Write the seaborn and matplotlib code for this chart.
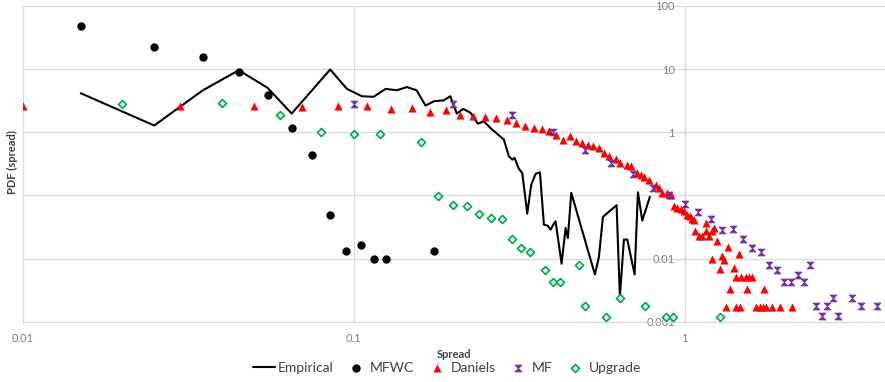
import matplotlib
matplotlib.use("Agg")
import matplotlib.pyplot as plt
import seaborn as sns

# ---------------- data ----------------
emp_x = [0.015, 0.025, 0.035, 0.045, 0.055, 0.065, 0.085, 0.0955, 0.106, 0.115,
         0.125, 0.135, 0.145, 0.155, 0.165, 0.175, 0.187, 0.196, 0.205, 0.2145,
         0.2257, 0.2374, 0.2475, 0.259, 0.2845, 0.2945, 0.3017, 0.3064, 0.3158, 0.3233,
         0.3347, 0.3441, 0.3548, 0.3656, 0.3758, 0.3864, 0.3937, 0.4012, 0.4076, 0.425,
         0.437, 0.444, 0.4546, 0.5358, 0.551, 0.5665, 0.623, 0.6375, 0.6556, 0.6712,
         0.7063, 0.7227, 0.745, 0.7855]
emp_y = [4.15, 1.28, 4.6, 9.6, 5.05, 1.98, 9.86, 4.87, 3.72, 3.65,
         4.87, 4.63, 5.2, 4.63, 2.65, 3.1, 3.2, 3.72, 1.98, 2.35,
         2.03, 1.37, 1.49, 1.17, 0.766, 0.417, 0.369, 0.393, 0.263, 0.227,
         0.0515, 0.148, 0.22, 0.232, 0.0345, 0.033, 0.0287, 0.0345, 0.039, 0.0083,
         0.0305, 0.0212, 0.11, 0.0056, 0.0106, 0.0456, 0.07, 0.0025, 0.02, 0.02,
         0.0056, 0.112, 0.04, 0.095]

mfwc_x = [0.015, 0.025, 0.035, 0.045, 0.055, 0.065, 0.075, 0.085, 0.095, 0.105,
          0.115, 0.125, 0.175]
mfwc_y = [49.1, 22.2, 15.7, 8.9, 3.96, 1.19, 0.43, 0.049, 0.0131, 0.0165,
          0.0099, 0.0099, 0.0131]

daniels_x = [0.01, 0.03, 0.05, 0.07, 0.09, 0.11, 0.13, 0.15, 0.17, 0.19,
             0.21, 0.23, 0.25, 0.27, 0.29, 0.31, 0.33, 0.35, 0.37, 0.39,
             0.41, 0.43, 0.45, 0.47, 0.49, 0.51, 0.53, 0.55, 0.57, 0.59,
             0.62, 0.64, 0.67, 0.69, 0.72, 0.74, 0.755, 0.78, 0.817, 0.836,
             0.856, 0.886, 0.907, 0.928, 0.95, 0.972, 0.995, 1.019, 1.037, 1.055,
             1.067, 1.072, 1.105, 1.131, 1.157, 1.157, 1.184, 1.212, 1.226, 1.255,
             1.3, 1.351, 1.212, 1.276, 1.409, 1.314, 1.463, 1.433, 1.476, 1.529,
             1.564, 1.602, 1.37, 1.54, 1.736, 1.337, 1.433, 1.466, 1.639, 1.685,
             1.724, 1.766, 1.84, 1.94, 2.105]
daniels_y = [2.58, 2.58, 2.65, 2.53, 2.65, 2.58, 2.35, 2.4, 2.13, 2.23,
             1.91, 1.84, 1.75, 1.69, 1.59, 1.41, 1.28, 1.17, 1.13, 1.06,
             0.92, 0.766, 0.864, 0.72, 0.68, 0.622, 0.60, 0.566, 0.472, 0.417,
             0.379, 0.327, 0.308, 0.289, 0.227, 0.2135, 0.196, 0.1735, 0.148, 0.131,
             0.11, 0.11, 0.103, 0.067, 0.063, 0.061, 0.056, 0.0495, 0.0467, 0.0424,
             0.0414, 0.027, 0.0225, 0.0225, 0.027, 0.0367, 0.0225, 0.027, 0.0305, 0.0187,
             0.0111, 0.0153, 0.00986, 0.00685, 0.0071, 0.0096, 0.012, 0.0051, 0.0051, 0.0051,
             0.0051, 0.0051, 0.0033, 0.0033, 0.0033, 0.00169, 0.00169, 0.00169, 0.00169, 0.00169,
             0.00169, 0.00169, 0.00169, 0.00169, 0.00169]

mf_x = [0.1, 0.2, 0.3, 0.4, 0.5, 0.6, 0.7, 0.8, 0.9, 1.0,
        1.1, 1.2, 1.3, 1.4, 1.5, 1.6, 1.7, 1.8, 1.9, 2.0,
        2.1, 2.2, 2.3, 2.4, 2.5, 2.6, 2.7, 2.8, 2.9, 3.2,
        3.4, 3.8]
mf_y = [2.82, 2.85, 1.89, 1.0, 0.519, 0.327, 0.22, 0.13, 0.103, 0.0733,
        0.054, 0.0424, 0.028, 0.0295, 0.0207, 0.0147, 0.0127, 0.0078, 0.0067, 0.00425,
        0.00425, 0.0054, 0.00425, 0.008, 0.00175, 0.00121, 0.00175, 0.00238, 0.00121, 0.00238,
        0.00175, 0.00175]

upg_x = [0.02, 0.04, 0.06, 0.08, 0.10, 0.12, 0.16, 0.18, 0.20, 0.22,
         0.24, 0.26, 0.28, 0.30, 0.32, 0.34, 0.38, 0.40, 0.42, 0.48,
         0.50, 0.58, 0.64, 0.76, 0.88, 0.92, 1.28]
upg_y = [2.82, 2.88, 1.86, 1.01, 0.95, 0.95, 0.71, 0.099, 0.0697, 0.067,
         0.0515, 0.0434, 0.0424, 0.0207, 0.0147, 0.0125, 0.0065, 0.0042, 0.0042, 0.0078,
         0.0018, 0.0012, 0.0024, 0.0018, 0.0012, 0.0012, 0.0012]

x_ticks = [0.01, 0.1, 1]
x_tick_labels = ["0.01", "0.1", "1"]
y_ticks = [0.001, 0.01, 0.1, 1, 10, 100]
y_tick_labels = ["0.001", "0.01", "", "1", "10", "100"]

# ---------------- style ----------------
sns.set_style("white")
plt.rcParams["font.family"] = ["Lato", "DejaVu Sans"]

GRID = "#d9d9d9"
TICK = "#7f7f7f"

fig = plt.figure(figsize=(8.85, 3.82), dpi=100)
W, H = 885.0, 382.0
ax = fig.add_axes([22.5 / W, (H - 321.7) / H, 862.5 / W, 315.7 / H])

hourglass = [(-1, 1), (1, 1), (-1, -1), (1, -1), (-1, 1)]

sns.lineplot(x=emp_x, y=emp_y, ax=ax, color="black", linewidth=1.5,
             label="Empirical", sort=False, estimator=None, zorder=3)
sns.scatterplot(x=mfwc_x, y=mfwc_y, ax=ax, color="black", marker="o", s=36,
                edgecolor="black", linewidth=0, label="MFWC", zorder=4)
sns.scatterplot(x=daniels_x, y=daniels_y, ax=ax, color="#ff0000", marker="^", s=34,
                edgecolor="#ff0000", linewidth=0, label="Daniels", zorder=4)
sns.scatterplot(x=mf_x, y=mf_y, ax=ax, color="#7030a0", marker=hourglass, s=24,
                edgecolor="#7030a0", linewidth=0.6, label="MF", zorder=5)
sns.scatterplot(x=upg_x, y=upg_y, ax=ax, color="white", marker="D", s=16,
                edgecolor="#00b050", linewidth=1.3, label="Upgrade", zorder=4)

ax.set_xscale("log")
ax.set_yscale("log")
ax.set_xlim(0.01, 4.03)
ax.set_ylim(0.001, 100)

ax.set_xticks(x_ticks)
ax.set_xticklabels(x_tick_labels)
ax.set_yticks(y_ticks)
ax.set_yticklabels(y_tick_labels)
ax.minorticks_off()
ax.tick_params(axis="both", length=0, labelsize=8, labelcolor=TICK)
ax.tick_params(axis="y", pad=7)
ax.tick_params(axis="x", pad=8)

ax.grid(True, which="major", color=GRID, linewidth=0.9, zorder=0)
ax.set_axisbelow(True)

for side in ("top", "right"):
    ax.spines[side].set_visible(False)
ax.spines["left"].set_position(("data", 1))
ax.spines["left"].set_color(GRID)
ax.spines["bottom"].set_color(GRID)
ax.spines["left"].set_linewidth(0.9)
ax.spines["bottom"].set_linewidth(0.9)

ax.set_xlabel("Spread", fontsize=8, fontweight="bold", color="#404040", labelpad=2)
ax.xaxis.set_label_coords(0.5, -0.085)
fig.text(12 / W, 1 - 162 / H, "PDF (spread)", rotation=90, fontsize=8,
         fontweight="bold", color="#404040", ha="center", va="center")
ax.set_ylabel("")

ax.legend(loc="center", bbox_to_anchor=(447 / W, (H - 367.5) / H),
          bbox_transform=fig.transFigure, ncol=5, frameon=False, fontsize=10,
          handlelength=1.6, handletextpad=0.2, columnspacing=0.8,
          labelcolor="#404040")

fig.savefig("out.png", dpi=100)
